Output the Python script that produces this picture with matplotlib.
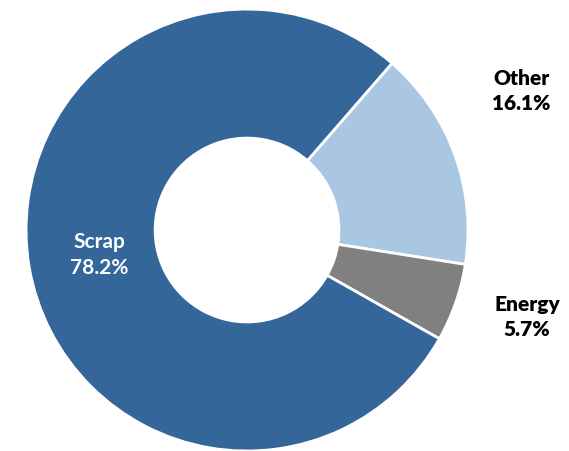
import matplotlib
matplotlib.use("Agg")
import matplotlib.pyplot as plt

# Data
categories = ["Other", "Energy", "Scrap"]
shares = [16.1, 5.7, 78.2]
colors = ["#a9c6e2", "#808080", "#346699"]

fig = plt.figure(figsize=(5.69, 4.51), dpi=100)
ax = fig.add_axes([0, 0, 1, 1])

wedges, _ = ax.pie(shares, colors=colors, startangle=49, counterclock=False,
                   radius=1.0,
                   wedgeprops=dict(width=0.584, edgecolor="white", linewidth=2))

# frame the donut the same way as the original picture
ax.set_xlim(-1.118, 1.457)
ax.set_ylim(-1.0, 1.041)
ax.set_aspect("auto")
ax.axis("off")

font = dict(family="Lato", fontsize=15, ha="center", va="center",
            linespacing=1.35)

ax.text(-0.67, -0.113, f"{categories[2]}\n{shares[2]}%", color="white",
        fontweight="bold", **font)
ax.text(1.24, 0.63, f"{categories[0]}\n{shares[0]}%", color="black",
        fontweight="heavy", **font)
ax.text(1.267, -0.393, f"{categories[1]}\n{shares[1]}%", color="black",
        fontweight="heavy", **font)

fig.savefig("out.png", dpi=100)
